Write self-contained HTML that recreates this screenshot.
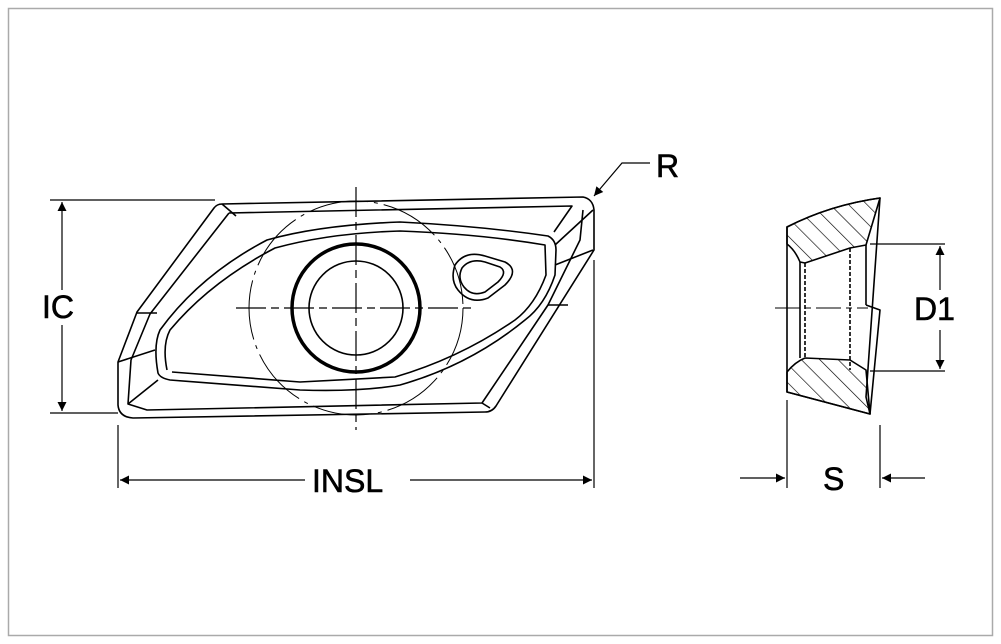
<!DOCTYPE html>
<html><head><style>body{margin:0;background:#fff}svg{display:block}text{font-family:"Liberation Sans",sans-serif;font-size:32px;fill:#000;stroke:#000;stroke-width:0.6}</style></head><body>
<svg width="1001" height="644" viewBox="0 0 1001 644" xmlns="http://www.w3.org/2000/svg">
<defs><marker id="a" viewBox="0 0 10 10" refX="10" refY="5" markerWidth="16" markerHeight="9" markerUnits="userSpaceOnUse" orient="auto"><path d="M0,0L10,5L0,10z" fill="#000"/></marker>
<pattern id="h" width="13" height="13" patternUnits="userSpaceOnUse" patternTransform="rotate(-45)"><line x1="0" y1="0" x2="0" y2="13" stroke="#000" stroke-width="1.3"/></pattern></defs>
<rect x="8.5" y="8.5" width="984" height="627" fill="none" stroke="#aaa" stroke-width="1.5"/>
<g fill="none" stroke="#000" stroke-width="1.6" stroke-linejoin="round">
<path d="M222,204 L583,197 Q593,199 594,210 L594,250 L496,406 Q492,412 485,412 L133,418 Q119,417 118,405 L118,362 L137,312 L214,208 Q217,204 222,204Z"/>
<path d="M229,213 L572,206 L554,232 M229,213 L150,314 L131,360 L128,404 L147,410 L482,403 L548,305 L580,240 L583,210"/>
<path d="M136,313 L157,313 M118,362 L155,350 M128,404 L158,380 M482,403 L490,408 M548,305 L568,305 M555,245 L593,210 M555,265 L593,250 M222,204 L236,216"/>
<path d="M158,373 Q153,345 160,330 Q200,275 267,240 Q320,225 400,222 Q480,226 548,236 Q556,240 556,250 L555,275 Q545,305 525,320 Q470,365 400,385 Q360,392 300,390 L170,380 Q160,378 158,373Z"/>
<path d="M167,370 Q162,345 170,330 Q210,282 275,248 Q330,233 400,231 Q480,234 545,245 L546,275 Q535,305 515,320 Q460,358 395,377 L300,382 L172,372"/>
<circle cx="356" cy="308" r="107" stroke-dasharray="60 6 4 6" stroke-width="1"/>
<circle cx="356" cy="308" r="64" stroke-width="3.5"/>
<circle cx="356" cy="308" r="47"/>
<path d="M356,187 V430 M236,308 H476" stroke-width="1.2" stroke-dasharray="30 5 8 5"/>
<path d="M455,265 Q465,250 485,256 L505,262 Q520,270 505,285 L488,298 Q470,305 458,290 Q450,280 455,265Z"/>
<path d="M462,268 Q470,258 485,262 L500,267 Q508,272 498,282 L485,292 Q472,297 464,287 Q457,278 462,268Z"/>
<path d="M787,227 L787,392 L870,414 L866,397 L880,198 Q830,205 787,227Z"/>
<path d="M787,227 Q830,205 880,198 L866,245 L850,248 Q820,258 805,263 L800,262 Q795,250 787,244Z" fill="url(#h)"/>
<path d="M787,392 L787,372 Q795,362 805,358 L850,360 L866,370 L870,414Z" fill="url(#h)"/>
<path d="M805,263 V358 M850,248 V370" stroke-dasharray="4 2"/>
<path d="M800,262 V358 M866,245 V305 M866,305 L880,310 L870,414"/>
<path d="M775,308 H868" stroke-width="1" stroke-dasharray="25 5 6 5"/>
</g>
<g stroke="#000" stroke-width="1.2" fill="none">
<path d="M50,200 H215 M50,413 H118 M118,425 V488 M594,260 V488 M870,244 H945 M870,371 H945 M787,400 V488 M880,425 V488"/>
<g marker-end="url(#a)">
<path d="M62,290 V202"/><path d="M62,325 V411"/>
<path d="M305,480 H120"/><path d="M410,480 H592"/>
<path d="M940,290 V246"/><path d="M940,330 V369"/>
<path d="M740,478 H785"/><path d="M925,478 H882"/>
<path d="M650,163 H622 L594,196"/>
</g>
</g>
<text x="42" y="318">IC</text>
<text x="312" y="492">INSL</text>
<text x="656" y="177">R</text>
<text x="914" y="320">D1</text>
<text x="823" y="490">S</text>
</svg></body></html>
